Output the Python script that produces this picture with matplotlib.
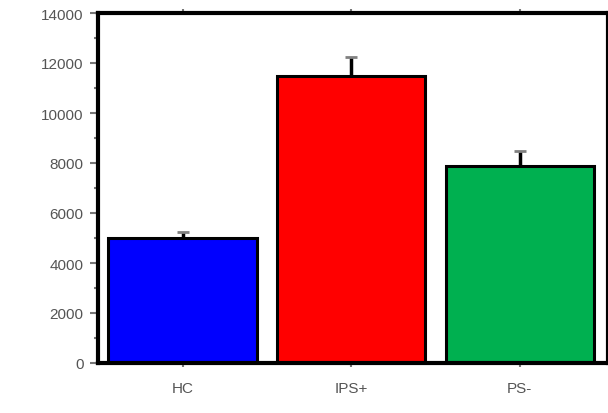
import matplotlib
matplotlib.use("Agg")
import matplotlib.pyplot as plt
from matplotlib.ticker import MultipleLocator

groups = ["HC", "IPS+", "PS-"]
means = [5000, 11500, 7900]
errors = [250, 750, 600]
colors = ["#0000FF", "#FF0000", "#00B050"]

plt.rcParams["font.family"] = ["Liberation Sans", "DejaVu Sans"]

fig = plt.figure(figsize=(6.08, 4.14), dpi=100)
ax = fig.add_axes([97.5 / 608, 50 / 414, 510 / 608, 350 / 414])

x = list(range(len(groups)))
ax.bar(x, means, width=0.88, color=colors, edgecolor="black", linewidth=2.2, zorder=2)
eb = ax.errorbar(x, means, yerr=[[0] * len(errors), errors], fmt="none",
                 ecolor="black", elinewidth=2.5, capsize=4, capthick=2, zorder=1)
for cap in eb[1]:
    cap.set_markeredgecolor("#808080")

ax.set_xlim(-0.505, 2.52)
ax.set_ylim(0, 14000)
ax.set_xticks(x)
ax.set_xticklabels(groups)
ax.yaxis.set_major_locator(MultipleLocator(2000))
ax.yaxis.set_minor_locator(MultipleLocator(1000))

for s in ax.spines.values():
    s.set_linewidth(3)

ax.tick_params(axis="y", which="major", length=6, width=1.5, color="#777777",
               labelsize=11, labelcolor="#555555", pad=4)
ax.tick_params(axis="y", which="minor", length=3, width=1.5, color="#777777")
ax.tick_params(axis="x", length=3, width=1.5, color="#777777", top=True,
               labelsize=11, labelcolor="#555555", pad=10)

fig.savefig("out.png", dpi=100)
